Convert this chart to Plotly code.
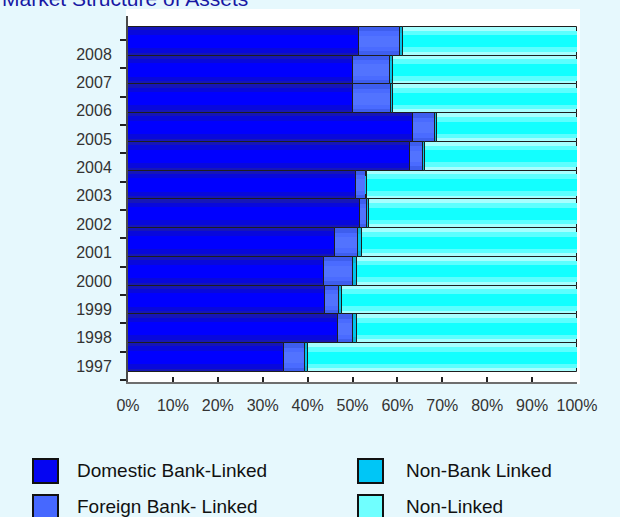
import plotly.graph_objects as go

# Market structure of assets, share of total (%) by year
years = ["1997", "1998", "1999", "2000", "2001", "2002",
         "2003", "2004", "2005", "2006", "2007", "2008"]
domestic_bank_linked = [34.7, 46.7, 43.9, 43.7, 46.1, 51.7, 50.7, 62.7, 63.5, 50.0, 50.2, 51.4]
foreign_bank_linked = [4.7, 3.4, 3.0, 6.4, 5.1, 1.6, 2.3, 3.1, 4.8, 8.6, 8.2, 9.2]
non_bank_linked = [0.7, 0.8, 0.8, 0.9, 0.9, 0.4, 0.3, 0.4, 0.6, 0.4, 0.6, 0.7]
non_linked = [59.9, 49.1, 52.3, 49.0, 47.9, 46.3, 46.7, 33.8, 31.1, 41.0, 41.0, 38.7]
x_ticks = [0, 10, 20, 30, 40, 50, 60, 70, 80, 90, 100]

series_names = ["Domestic Bank-Linked", "Foreign Bank- Linked", "Non-Bank Linked", "Non-Linked"]
series_values = [domestic_bank_linked, foreign_bank_linked, non_bank_linked, non_linked]

# shading bands per series: (band width, colour) from outer edge to centre
shades = [
    [(1.0, "#1616B8"), (0.78, "#0808DC"), (0.46, "#0000FF")],
    [(1.0, "#3E5EEE"), (0.7, "#4A6BFF"), (0.4, "#5273FF")],
    [(1.0, "#0AB4D6"), (0.6, "#00C4EC")],
    [(1.0, "#A6FFFF"), (0.74, "#5CFFFF"), (0.42, "#12FFFF")],
]
swatch_colors = ["#0505F2", "#4668FF", "#00C6F6", "#70FFFF"]

W, H = 620, 517
L, R, T, B = 128, 577, 16, 382  # plot area in pixels


def px(x):
    return (x - L) / (R - L)


def py(y):
    return (B - y) / (B - T)


fig = go.Figure()

positions = list(range(len(years)))
starts = [0.0] * len(years)
for name, vals, bands in zip(series_names, series_values, shades):
    for k, (w, col) in enumerate(bands):
        fig.add_trace(go.Bar(
            y=positions, x=vals, base=starts, orientation="h",
            width=w, name=name, showlegend=False,
            marker=dict(color=col,
                        line=dict(color="#1E1E1E", width=1 if k == 0 else 0)),
            hovertemplate=name + ": %{x:.1f}%<extra></extra>",
        ))
    starts = [s + v for s, v in zip(starts, vals)]

# carrier trace for the year-label axis
fig.add_trace(go.Scatter(x=[None], y=[None], yaxis="y2", showlegend=False,
                         hoverinfo="skip"))

font_family = "Liberation Sans, Arial, sans-serif"

shapes = [
    # white plot panel
    dict(type="rect", xref="paper", yref="paper", layer="below",
         x0=px(126), x1=px(580), y0=py(384), y1=py(9),
         fillcolor="white", line=dict(width=0)),
]
annotations = [
    dict(text="Market Structure of Assets", xref="paper", yref="paper",
         x=px(0), y=py(12), xanchor="left", yanchor="bottom", showarrow=False,
         font=dict(family=font_family, size=21, color="#1818A4")),
]

# legend: two columns of square swatches with labels
col_x = [33, 358]
row_y = [459, 495]
text_x = [75, 404]
for i, name in enumerate(series_names):
    c, r = i // 2, i % 2
    shapes.append(dict(type="rect", xref="paper", yref="paper",
                       x0=px(col_x[c]), x1=px(col_x[c] + 25),
                       y0=py(row_y[r] + 24), y1=py(row_y[r]),
                       fillcolor=swatch_colors[i],
                       line=dict(color="#111111", width=2)))
    annotations.append(dict(text=name, xref="paper", yref="paper",
                            x=px(text_x[c]), y=py(row_y[r] + 11),
                            xanchor="left", yanchor="middle", showarrow=False,
                            font=dict(family=font_family, size=19, color="#111111")))

fig.update_layout(
    width=W, height=H,
    margin=dict(l=L, r=W - R, t=T, b=H - B, pad=0),
    paper_bgcolor="#E6F8FD",
    plot_bgcolor="white",
    barmode="overlay",
    bargap=0,
    showlegend=False,
    font=dict(family=font_family, size=16, color="#333333"),
    xaxis=dict(
        range=[0, 100], tickmode="array", tickvals=x_ticks,
        ticktext=[f"{v}%" for v in x_ticks],
        ticks="inside", ticklen=5, tickwidth=1.5, tickcolor="#222222",
        showline=True, linecolor="#6E6E6E", linewidth=2,
        showgrid=False, zeroline=False, ticklabelstandoff=8,
        tickfont=dict(family=font_family, size=16, color="#333333"),
    ),
    yaxis=dict(
        range=[-0.849, 11.88], showticklabels=False, ticks="",
        showgrid=False, zeroline=False, showline=False,
    ),
    yaxis2=dict(
        overlaying="y", side="left", range=[-0.564, 12.34],
        tickmode="array", tickvals=positions, ticktext=years, ticks="",
        minor=dict(tickmode="linear", tick0=-0.5, dtick=1, ticks="outside",
                   ticklen=6, tickwidth=1.5, tickcolor="#222222", showgrid=False),
        showline=True, linecolor="#4A4A4A", linewidth=2,
        showgrid=False, zeroline=False, ticklabelstandoff=11,
        tickfont=dict(family=font_family, size=16, color="#333333"),
    ),
    shapes=shapes,
    annotations=annotations,
)

fig.write_html("out.html")
